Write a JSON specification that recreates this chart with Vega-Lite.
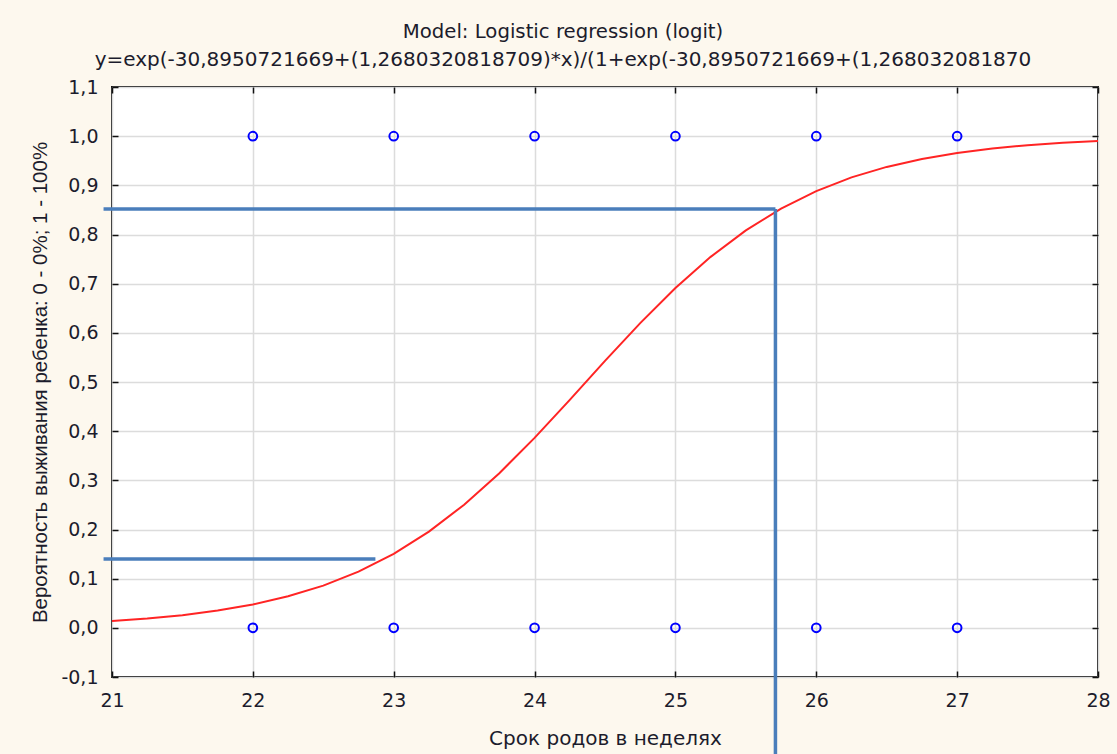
{
  "$schema": "https://vega.github.io/schema/vega-lite/v6.json",
  "width": 986,
  "height": 590,
  "autosize": {"type": "none"},
  "padding": {"left": 112, "top": 87, "right": 19, "bottom": 77},
  "background": "#fdf8ee",
  "config": {
    "font": "DejaVu Sans",
    "view": {"fill": "white", "stroke": "#111111", "strokeWidth": 2},
    "axis": {"domain": false, "labelFont": "DejaVu Sans", "titleFont": "DejaVu Sans", "labelColor": "#1c1c2c", "titleColor": "#1c1c2c", "tickColor": "#111111", "gridColor": "#dcdcdc", "gridWidth": 1.5, "labelFlush": false}
  },
  "title": {
    "text": "Model: Logistic regression (logit)",
    "subtitle": "y=exp(-30,8950721669+(1,2680320818709)*x)/(1+exp(-30,8950721669+(1,268032081870",
    "anchor": "middle",
    "dx": -42,
    "font": "DejaVu Sans",
    "subtitleFont": "DejaVu Sans",
    "fontSize": 19.7,
    "fontWeight": "normal",
    "color": "#1c1c2c",
    "subtitleFontSize": 20,
    "subtitleColor": "#1c1c2c",
    "subtitlePadding": 8,
    "offset": 8
  },
  "datasets": {
    "curve": [
      {"x": 21.0, "p": 0.01384}, {"x": 21.25, "p": 0.0189}, {"x": 21.5, "p": 0.02577}, {"x": 21.75, "p": 0.03505},
      {"x": 22.0, "p": 0.0475}, {"x": 22.25, "p": 0.06409}, {"x": 22.5, "p": 0.08593}, {"x": 22.75, "p": 0.11433},
      {"x": 23.0, "p": 0.15055}, {"x": 23.25, "p": 0.19572}, {"x": 23.5, "p": 0.25044}, {"x": 23.75, "p": 0.31446},
      {"x": 24.0, "p": 0.38643}, {"x": 24.25, "p": 0.46376}, {"x": 24.5, "p": 0.54286}, {"x": 24.75, "p": 0.61981},
      {"x": 25.0, "p": 0.6912}, {"x": 25.25, "p": 0.7545}, {"x": 25.5, "p": 0.80842}, {"x": 25.75, "p": 0.8528},
      {"x": 26.0, "p": 0.88832}, {"x": 26.25, "p": 0.91612}, {"x": 26.5, "p": 0.93748}, {"x": 26.75, "p": 0.95368},
      {"x": 27.0, "p": 0.96585}, {"x": 27.25, "p": 0.97488}, {"x": 27.5, "p": 0.98158}, {"x": 27.75, "p": 0.98651},
      {"x": 28.0, "p": 0.99014}
    ],
    "observed": [
      {"week": 22, "survived": 0}, {"week": 23, "survived": 0}, {"week": 24, "survived": 0},
      {"week": 25, "survived": 0}, {"week": 26, "survived": 0}, {"week": 27, "survived": 0},
      {"week": 22, "survived": 1}, {"week": 23, "survived": 1}, {"week": 24, "survived": 1},
      {"week": 25, "survived": 1}, {"week": 26, "survived": 1}, {"week": 27, "survived": 1}
    ],
    "guides": [
      {"x1": 20.94, "x2": 25.71, "y1": 0.852, "y2": 0.852},
      {"x1": 25.71, "x2": 25.71, "y1": 0.852, "y2": -0.26},
      {"x1": 20.94, "x2": 22.87, "y1": 0.14, "y2": 0.14}
    ]
  },
  "resolve": {"axis": {"x": "independent", "y": "independent"}},
  "layer": [
    {
      "data": {"name": "curve"},
      "mark": {"type": "line", "color": "#ff2424", "strokeWidth": 2, "clip": true},
      "encoding": {
        "x": {
          "field": "x", "type": "quantitative",
          "scale": {"domain": [21, 28], "nice": false, "zero": false},
          "axis": {
            "orient": "bottom", "values": [21, 22, 23, 24, 25, 26, 27, 28], "grid": true,
            "tickSize": -6, "tickWidth": 1.5, "labelPadding": 20, "labelFontSize": 19,
            "title": "Срок родов в неделях", "titleFontSize": 20, "titleFontWeight": "normal", "titlePadding": 18
          }
        },
        "y": {
          "field": "p", "type": "quantitative",
          "scale": {"domain": [-0.1, 1.1], "nice": false, "zero": false},
          "axis": {
            "orient": "left", "values": [-0.1, 0, 0.1, 0.2, 0.3, 0.4, 0.5, 0.6, 0.7, 0.8, 0.9, 1.0, 1.1], "grid": true,
            "tickSize": -6, "tickWidth": 1.5, "labelPadding": 20, "labelFontSize": 19,
            "labelExpr": "replace(replace(format(datum.value, '.1f'), '.', ','), '\u2212', '-')",
            "title": "Вероятность выживания ребенка: 0 - 0%; 1 - 100%", "titleFont": "Liberation Sans", "titleFontSize": 20.5, "titleFontWeight": "normal", "titlePadding": 10
          }
        }
      }
    },
    {
      "data": {"name": "observed"},
      "mark": {"type": "point", "shape": "circle", "filled": false, "color": "#0000ff", "opacity": 1, "size": 75, "strokeWidth": 2},
      "encoding": {
        "x": {
          "field": "week", "type": "quantitative",
          "axis": {"orient": "top", "values": [21, 22, 23, 24, 25, 26, 27, 28], "labels": false, "grid": false, "tickSize": -6, "tickWidth": 1.5, "title": null}
        },
        "y": {
          "field": "survived", "type": "quantitative",
          "axis": {"orient": "right", "values": [-0.1, 0, 0.1, 0.2, 0.3, 0.4, 0.5, 0.6, 0.7, 0.8, 0.9, 1.0, 1.1], "labels": false, "grid": false, "tickSize": -6, "tickWidth": 1.5, "title": null}
        }
      }
    },
    {
      "data": {"name": "guides"},
      "mark": {"type": "rule", "color": "#4a7ebb", "strokeWidth": 3.5, "clip": false},
      "encoding": {
        "x": {"field": "x1", "type": "quantitative", "axis": null},
        "x2": {"field": "x2"},
        "y": {"field": "y1", "type": "quantitative", "axis": null},
        "y2": {"field": "y2"}
      }
    }
  ]
}
